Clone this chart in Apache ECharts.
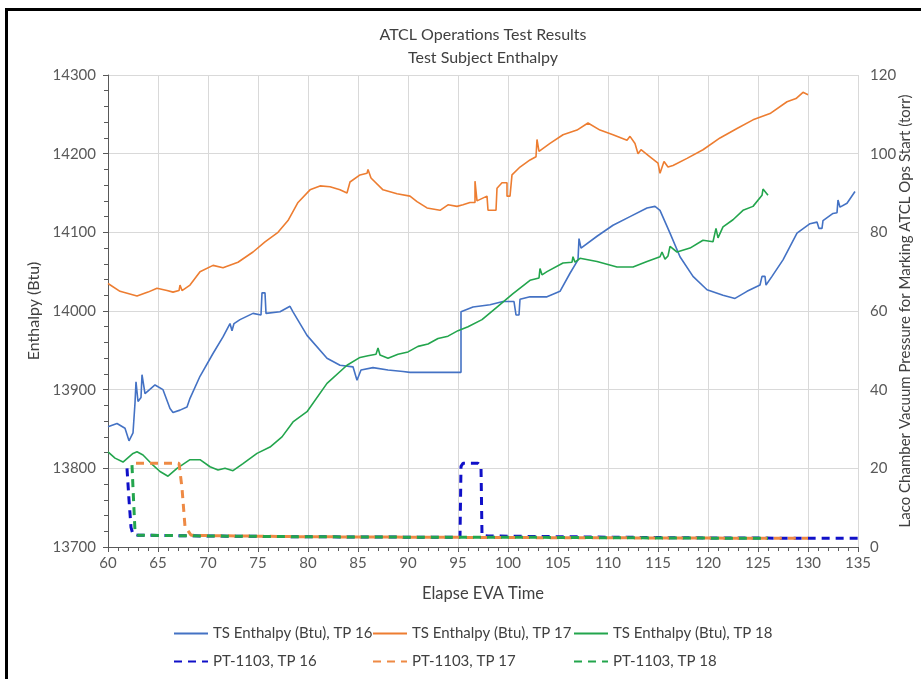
<!DOCTYPE html>
<html>
<head>
<meta charset="utf-8">
<script src="https://cdn.jsdelivr.net/npm/echarts@6/dist/echarts.min.js"></script>
<style>
  body { margin: 0; background: #fff; }
  #frame { position: absolute; left: 5px; top: 8px; width: 916px; height: 671px;
           border-top: 3px solid #000; border-left: 3px solid #000; box-sizing: border-box; }
  #chart { position: absolute; left: 0; top: 0; width: 921px; height: 679px; }
</style>
</head>
<body>
<div id="frame"></div>
<div id="chart"></div>
<script>
// [elapsed EVA time, value]
const enthalpyTP16 = [
  [60.0,13853],[60.9,13857],[61.7,13851],[62.1,13835],[62.5,13845],[62.7,13883],[62.8,13910],[62.9,13910],
  [63.0,13885],[63.3,13890],[63.4,13919],[63.5,13919],[63.7,13895],[64.7,13906],[65.5,13900],[66.2,13876],
  [66.5,13871],[67.2,13874],[67.9,13878],[68.2,13889],[69.2,13917],[70.5,13946],[71.5,13967],[72.2,13984],
  [72.4,13975],[72.6,13984],[73.2,13989],[74.5,13997],[75.3,13995],[75.4,14023],[75.7,14023],[75.8,13997],
  [77.2,13999],[78.2,14006],[78.5,13999],[79.9,13969],[81.9,13940],[83.2,13931],[84.5,13929],[84.9,13912],
  [85.3,13925],[86.5,13928],[88.0,13925],[89.5,13923],[90.2,13922],[95.3,13922],[95.3,13999],[96.5,14005],
  [98.2,14008],[99.5,14012],[100.6,14012],[100.8,13995],[101.1,13995],[101.2,14015],[102.2,14018],[103.9,14018],
  [105.2,14025],[106.2,14048],[107.0,14065],[107.1,14092],[107.3,14080],[107.5,14082],[108.9,14095],[110.5,14109],
  [112.2,14120],[113.9,14131],[114.7,14133],[115.2,14128],[116.2,14099],[117.2,14069],[118.5,14044],[119.9,14027],
  [121.5,14020],[122.7,14016],[123.9,14025],[125.2,14033],[125.4,14044],[125.7,14044],[125.8,14033],[126.4,14044],
  [127.5,14065],[128.9,14099],[130.2,14111],[130.9,14113],[131.1,14105],[131.4,14105],[131.5,14115],[132.5,14124],
  [132.9,14125],[133.0,14141],[133.2,14132],[133.9,14137],[134.7,14152]
];
const enthalpyTP17 = [
  [60.0,14035],[61.2,14025],[62.9,14019],[64.0,14024],[64.9,14029],[65.9,14026],[66.5,14024],[67.1,14026],
  [67.2,14033],[67.4,14026],[68.2,14033],[69.2,14050],[70.5,14058],[71.5,14055],[73.0,14062],[74.5,14075],
  [75.7,14088],[77.0,14100],[78.0,14115],[79.0,14138],[80.2,14154],[81.2,14159],[82.2,14158],[83.2,14154],
  [83.9,14150],[84.2,14164],[85.2,14173],[85.9,14175],[86.0,14180],[86.2,14180],[86.3,14169],[87.5,14154],
  [88.9,14149],[90.2,14146],[90.9,14139],[91.9,14131],[93.2,14128],[94.0,14135],[94.9,14133],[95.5,14135],
  [96.2,14138],[96.7,14138],[96.7,14165],[96.9,14165],[96.9,14140],[97.9,14146],[98.0,14128],[98.8,14128],
  [98.9,14156],[99.4,14163],[99.9,14163],[99.9,14146],[100.2,14146],[100.4,14173],[101.2,14183],[102.2,14192],
  [102.8,14196],[102.9,14218],[103.0,14218],[103.1,14203],[104.2,14213],[105.5,14224],[106.9,14230],[108.0,14239],
  [109.2,14230],[110.5,14224],[111.9,14217],[112.2,14222],[112.7,14213],[113.0,14200],[113.3,14205],[114.2,14196],
  [115.0,14188],[115.2,14175],[115.4,14175],[115.6,14190],[116.0,14183],[116.5,14185],[117.9,14194],[119.5,14205],
  [121.2,14220],[122.9,14232],[124.5,14243],[126.2,14251],[127.9,14266],[128.8,14270],[129.5,14278],[130.0,14275]
];
const enthalpyTP18 = [
  [60.0,13821],[60.7,13813],[61.5,13808],[62.5,13819],[62.9,13821],[63.5,13817],[64.5,13804],[65.2,13796],
  [66.0,13790],[66.9,13800],[68.2,13811],[69.2,13811],[70.2,13802],[71.0,13798],[71.7,13800],[72.5,13797],
  [73.5,13806],[74.9,13819],[76.2,13827],[77.4,13840],[78.5,13859],[79.9,13872],[81.9,13908],[83.9,13931],
  [85.2,13941],[86.0,13943],[86.8,13945],[87.0,13953],[87.2,13944],[88.0,13940],[89.0,13945],[90.0,13948],
  [91.0,13955],[92.0,13958],[93.0,13965],[94.0,13968],[95.0,13975],[96.0,13980],[97.4,13989],[98.9,14005],
  [100.5,14022],[102.2,14039],[103.1,14042],[103.2,14054],[103.4,14046],[103.9,14050],[105.5,14061],[106.4,14062],
  [106.5,14069],[106.7,14062],[107.2,14067],[108.9,14063],[110.9,14056],[112.5,14056],[113.9,14063],[115.2,14069],
  [115.4,14075],[115.7,14066],[116.0,14070],[116.2,14082],[116.9,14075],[118.2,14080],[119.5,14090],[120.5,14088],
  [120.8,14105],[121.0,14093],[121.5,14107],[122.5,14116],[123.5,14128],[124.5,14133],[125.4,14147],[125.5,14155],
  [126.0,14147]
];
const pressureTP16 = [
  [61.9,20.0],[62.1,12],[62.3,5],[62.5,3.2],[63,3.0],[70,2.8],[80,2.6],[90,2.5],[95.2,2.5],[95.3,20.5],
  [95.5,21.3],[97.0,21.3],[97.3,20.5],[97.4,3.0],[98,2.8],[110,2.5],[120,2.3],[135,2.2]
];
const pressureTP17 = [
  [62.8,21.3],[67.1,21.3],[67.4,15],[67.7,5.2],[68.3,3.0],[70,2.9],[80,2.6],[90,2.5],[100,2.4],[115,2.3],[130,2.2]
];
const pressureTP18 = [
  [62.4,20.8],[62.5,15],[62.7,4],[63.0,3.0],[70,2.8],[80,2.6],[90,2.5],[100,2.5],[115,2.3],[126,2.2]
];

const names = [
  'TS Enthalpy (Btu), TP 16', 'TS Enthalpy (Btu), TP 17', 'TS Enthalpy (Btu), TP 18',
  'PT-1103, TP 16', 'PT-1103, TP 17', 'PT-1103, TP 18'
];
const textColor = '#404040'
const labelColor = '#595959'
const font = 'Lato, "Open Sans", sans-serif'

const chart = echarts.init(document.getElementById('chart'))

function solid(name, data, color) {
  return {
    name, type: 'line', data, yAxisIndex: 0, symbol: 'none', animation: false,
    lineStyle: { color, width: 1.6 }, itemStyle: { color }
  }
}
function dashed(name, data, color) {
  return {
    name, type: 'line', data, yAxisIndex: 1, symbol: 'none', animation: false, z: 3,
    lineStyle: { color, width: 3, type: [8, 6] }, itemStyle: { color }
  }
}

// Excel-style legend: two rows, three fixed columns
const legendPos = [[173, 626], [372, 626], [573, 626], [173, 654], [372, 654], [573, 654]]
const legends = names.map((n, i) => ({
  data: [n],
  left: legendPos[i][0],
  top: legendPos[i][1],
  padding: 0,
  itemWidth: 34,
  itemHeight: 3,
  itemGap: 0,
  itemStyle: { opacity: 0 },
  textStyle: { color: textColor, fontSize: 15, fontFamily: font },
  selectedMode: false
}))

chart.setOption({
  textStyle: { fontFamily: font },
  title: {
    text: 'ATCL Operations Test Results\nTest Subject Enthalpy',
    left: 478,
    top: 18,
    textAlign: 'center',
    textStyle: { color: textColor, fontSize: 16, fontWeight: 'normal', lineHeight: 23, fontFamily: font }
  },
  legend: legends,
  grid: { left: 108, right: 63, top: 75, bottom: 132, outerBoundsMode: 'none' },
  xAxis: {
    type: 'value', min: 60, max: 135, interval: 5,
    name: 'Elapse EVA Time', nameLocation: 'middle', nameGap: 38,
    nameTextStyle: { color: textColor, fontSize: 16.5, fontFamily: font },
    axisLine: { lineStyle: { color: labelColor } },
    axisTick: { inside: false, length: 5, lineStyle: { color: labelColor } },
    minorTick: { show: true, splitNumber: 5, length: 4, lineStyle: { color: labelColor } },
    axisLabel: { color: labelColor, fontSize: 15, margin: 9 },
    splitLine: { show: true, lineStyle: { color: '#d9d9d9' } }
  },
  yAxis: [{
    type: 'value', min: 13700, max: 14300, interval: 100,
    name: 'Enthalpy (Btu)', nameLocation: 'middle', nameGap: 66, nameRotate: 90,
    nameTextStyle: { color: textColor, fontSize: 16, fontFamily: font },
    axisLine: { show: true, lineStyle: { color: labelColor } },
    axisTick: { show: true, length: 5, lineStyle: { color: labelColor } },
    minorTick: { show: true, splitNumber: 5, length: 4, lineStyle: { color: labelColor } },
    axisLabel: { color: labelColor, fontSize: 15, margin: 12, formatter: v => String(v) },
    splitLine: { show: true, lineStyle: { color: '#d9d9d9' } }
  }, {
    type: 'value', min: 0, max: 120, interval: 20, position: 'right',
    name: 'Laco Chamber Vacuum Pressure for Marking ATCL Ops Start (torr)',
    nameLocation: 'middle', nameGap: 40, nameRotate: 90, nameMoveOverlap: false,
    nameTextStyle: { color: textColor, fontSize: 15, fontFamily: font },
    axisLine: { show: false },
    axisTick: { show: false },
    axisLabel: { color: labelColor, fontSize: 15, margin: 12, formatter: v => String(v) },
    splitLine: { show: false }
  }],
  series: [
    solid(names[0], enthalpyTP16, '#4472C4'),
    solid(names[1], enthalpyTP17, '#ED7D31'),
    solid(names[2], enthalpyTP18, '#23A54D'),
    dashed(names[3], pressureTP16, '#1010C8'),
    dashed(names[4], pressureTP17, '#EE8A45'),
    dashed(names[5], pressureTP18, '#23A54D')
  ]
})
</script>
</body>
</html>
